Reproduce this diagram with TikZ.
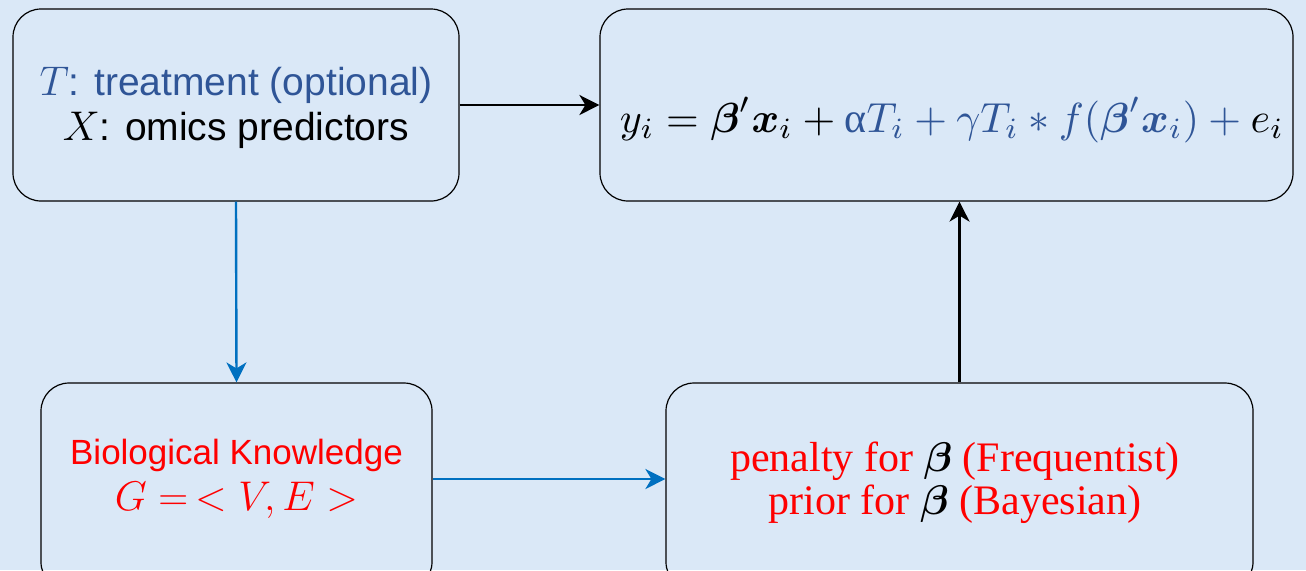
\documentclass[tikz,border=0pt]{standalone}
\usepackage{amsmath,amssymb}
\usepackage{fontspec}
\setmainfont{Liberation Sans}
\newfontfamily\serifcam{Liberation Serif}
\usetikzlibrary{arrows.meta}
\definecolor{bgblue}{RGB}{218,232,247}
\definecolor{txtblue}{RGB}{47,85,151}
\definecolor{arrblue}{RGB}{0,112,192}
\definecolor{myred}{RGB}{255,0,0}
\tikzset{
  rbox/.style={draw=black, line width=0.6pt, rounded corners=14pt, inner sep=0pt, fill=none},
  blackarr/.style={line width=1.2pt, draw=black, -{Stealth[length=10pt,width=10pt,inset=3pt]}},
  bluearr/.style={line width=1.2pt, draw=arrblue, -{Stealth[length=10pt,width=10pt,inset=3pt]}},
}
\begin{document}
\begin{tikzpicture}[x=0.5pt,y=-0.5pt]
\useasboundingbox (0,0) rectangle (1306,570);
\fill[bgblue] (0,0) rectangle (1306,570);
\begin{scope}
\clip (0,0) rectangle (1306,570);
\node[rbox, minimum width=223pt, minimum height=96pt] (box1) at (236,105) {};
\node[rbox, minimum width=346.5pt, minimum height=96pt] (box2) at (946.5,105) {};
\node[rbox, minimum width=195.5pt, minimum height=103.5pt] (box3) at (236.5,486.5) {};
\node[rbox, minimum width=293.5pt, minimum height=103.5pt] (box4) at (959.5,486.5) {};
\end{scope}
\node (t1) at (236,85) {\fontsize{19.5}{23}\selectfont\color{txtblue}$T$: treatment (optional)};
\node (t2) at (236,130) {\fontsize{19.5}{23}\selectfont\color{black}$X$: omics predictors};
\node (eq) at (952,120) {\resizebox{332pt}{!}{$y_i = \boldsymbol{\beta}'\boldsymbol{x}_i + {\color{txtblue}\text{\serifcam α}T_i + \gamma T_i * f(\boldsymbol{\beta}'\boldsymbol{x}_i)} \mathbin{\color{txtblue}+} e_i$}};
\node (t3) at (236.5,455) {\fontsize{17.5}{21}\selectfont\color{myred}Biological Knowledge};
\node (t4) at (236.5,500) {\fontsize{20}{24}\selectfont\color{myred}$G = \,< V, E >$};
\node (t5) at (955,461) {\fontsize{21}{24}\selectfont\serifcam\color{myred}penalty for {\color{black}$\boldsymbol{\beta}$} (Frequentist)};
\node (t6) at (955,504) {\fontsize{21}{24}\selectfont\serifcam\color{myred}prior for {\color{black}$\boldsymbol{\beta}$} (Bayesian)};
\draw[blackarr] (box1.east) -- (box2.west);
\draw[bluearr] (box1.south) -- (box3.north);
\draw[bluearr] ([yshift=3.75pt]box3.east) -- ([yshift=3.75pt]box4.west);
\draw[blackarr] (box4.north) -- (box4.north |- box2.south);
\end{tikzpicture}
\end{document}
